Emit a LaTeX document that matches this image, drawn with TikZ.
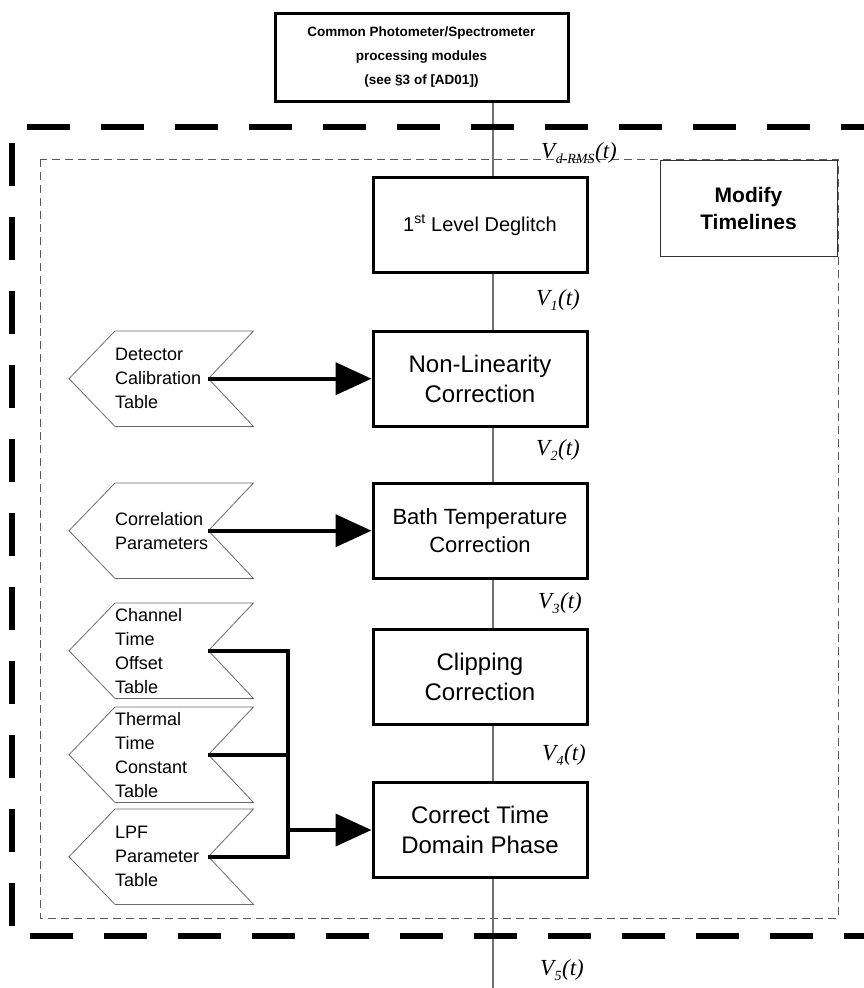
\documentclass[tikz,border=0pt]{standalone}
\usepackage{fontspec}
\setmainfont{Liberation Sans}
\newfontfamily\timesfont{Liberation Serif}
\usetikzlibrary{arrows.meta,positioning}
\newcommand\sig[1]{V\kern0.5pt\raisebox{-0.5ex}{\fontsize{14}{14}\selectfont #1}\kern0.5pt(t)}
\tikzset{
  procbox/.style={draw,line width=3pt,fill=white,minimum width=214pt,minimum height=95pt,align=center,font=\fontsize{24}{30}\selectfont},
  tabbox/.style={inner xsep=0pt,inner ysep=0pt,text width=138pt,minimum height=95pt,align=left,anchor=north west,font=\fontsize{18}{24}\selectfont},
  chevline/.style={draw=gray!85!black,line width=0.8pt},
  feed/.style={line width=4pt},
  bigarrow/.style={feed,-{Triangle[length=36pt,width=32pt]}},
  bus/.style={draw=gray!90!black,line width=1.3pt},
  siglabel/.style={anchor=east,inner sep=0pt,font=\fontsize{23}{23}\selectfont\timesfont\itshape},
  outer frame/.style={line width=6.5pt,dash pattern=on 43pt off 31pt},
  inner frame/.style={draw=gray!70!black,line width=0.8pt,dash pattern=on 8pt off 5pt}
}
\begin{document}
\begin{tikzpicture}[x=1pt,y=-1pt]
\useasboundingbox (0,0) rectangle (864,988);
\coordinate (bus) at (493,0);
\coordinate (bus end) at (493,988);
\coordinate (jn) at (288,0);
\draw[inner frame] (40,159) rectangle (838,918);
\node[draw,line width=3pt,fill=white,minimum width=293pt,minimum height=88pt,align=center,
  font=\fontsize{13.5}{24}\selectfont\bfseries] (top) at (421.5,57)
  {Common Photometer/Spectrometer\\processing modules\\(see \S3 of [AD01])};
\node[procbox,font=\fontsize{20}{24}\selectfont] (dgl) at (480,225) {1\textsuperscript{st} Level Deglitch};
\node[procbox] (nlc) at (480,379) {Non-Linearity\\Correction};
\node[procbox,font=\fontsize{22}{28}\selectfont] (btc) at (480,531) {Bath Temperature\\Correction};
\node[procbox] (clc) at (480,677) {Clipping\\Correction};
\node[procbox] (ctd) at (480,830) {Correct Time\\Domain Phase};
\node[draw=gray!40!black,line width=1pt,fill=white,minimum width=177pt,minimum height=96pt,align=center,
  font=\fontsize{21}{27}\selectfont\bfseries] (mod) at (748.5,208) {Modify\\Timelines};
\foreach \a/\b in {top/dgl,dgl/nlc,nlc/btc,btc/clc,clc/ctd}
  \draw[bus] (\a.south -| bus) -- (\b.north -| bus);
\draw[bus] (ctd.south -| bus) -- (bus end);
\node[siglabel,anchor=west] (vd) at (541,153) {\sig{d-RMS}};
\node[siglabel] (v1) at (580,300) {\sig{1}};
\node[siglabel] (v2) at (580,450) {\sig{2}};
\node[siglabel] (v3) at (582,603) {\sig{3}};
\node[siglabel] (v4) at (586,755) {\sig{4}};
\node[siglabel] (v5) at (584,970) {\sig{5}};
\node[tabbox] (dct) at (115,331) {Detector\\Calibration\\Table};
\node[tabbox] (cpr) at (115,483) {Correlation\\Parameters};
\node[tabbox] (cto) at (115,603) {Channel\\Time\\Offset\\Table};
\node[tabbox] (ttc) at (115,707) {Thermal\\Time\\Constant\\Table};
\node[tabbox] (lpf) at (115,809) {LPF\\Parameter\\Table};
\foreach \nm in {dct,cpr,cto,ttc,lpf}{
  \draw[chevline] (\nm.north west) -- (\nm.north east) -- ([xshift=-45pt]\nm.east)
    -- (\nm.south east) -- (\nm.south west) -- ([xshift=-46pt]\nm.west) -- cycle;
  \coordinate (\nm-n) at ([xshift=-45pt]\nm.east);
}
\draw[bigarrow] (dct-n) -- (nlc.west |- dct-n);
\draw[bigarrow] (cpr-n) -- (btc.west |- cpr-n);
\draw[feed] (cto-n) -| (jn |- lpf-n) -- (lpf-n);
\draw[feed] (ttc-n) -- (jn |- ttc-n);
\draw[bigarrow] (jn |- ctd) -- (ctd.west);
\draw[outer frame] (27,127) -- (875,127);
\draw[outer frame] (12,143) -- (12,930);
\draw[outer frame] (30,936) -- (875,936);
\end{tikzpicture}
\end{document}
